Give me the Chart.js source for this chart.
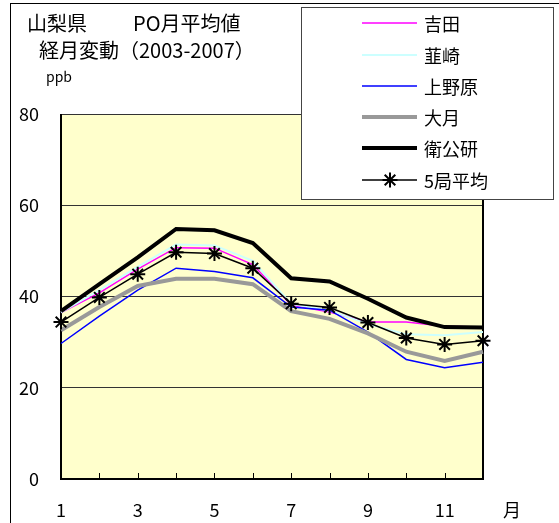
<!DOCTYPE html>
<html>
<head>
<meta charset="utf-8">
<script src="https://cdn.jsdelivr.net/npm/chart.js@4/dist/chart.umd.min.js"></script>
<style>
    html, body { margin: 0; padding: 0; background: #fff; }
    #wrap { width: 559px; height: 523px; position: relative; }
</style>
</head>
<body>
<div id="wrap"><canvas id="c" width="559" height="523"></canvas></div>
<script>
// PO monthly means (ppb)
const months = ['1', '2', '3', '4', '5', '6', '7', '8', '9', '10', '11', '12'];
const yoshida   = [36.5, 40.8, 46.0, 50.7, 50.6, 47.0, 38.1, 36.6, 34.4, 34.4, 33.5, 33.3];
const nirasaki  = [36.5, 41.4, 46.5, 51.4, 51.2, 47.8, 38.4, 36.9, 34.0, 31.7, 31.5, 32.2];
const uenohara  = [29.7, 35.7, 41.4, 46.2, 45.5, 44.1, 37.7, 37.0, 32.2, 26.2, 24.4, 25.6];
const otsuki    = [32.6, 37.7, 42.3, 43.9, 43.9, 42.7, 36.8, 35.1, 31.9, 27.9, 25.9, 27.9];
const eikouken  = [36.8, 42.7, 48.6, 54.8, 54.5, 51.7, 44.0, 43.3, 39.5, 35.4, 33.3, 33.2];
const average5  = [34.4, 39.8, 44.9, 49.7, 49.4, 46.2, 38.4, 37.6, 34.3, 30.9, 29.5, 30.3];
const yTicks = [0, 20, 40, 60, 80];

const FONT = '"Noto Sans CJK JP", "Noto Sans", sans-serif';

const seriesStyle = [
    { label: '吉田',     data: yoshida,  color: '#ff00ff', width: 1.5 },
    { label: '韮崎',     data: nirasaki, color: '#ccffff', width: 2 },
    { label: '上野原',   data: uenohara, color: '#0000ff', width: 1.5 },
    { label: '大月',     data: otsuki,   color: '#999999', width: 4 },
    { label: '衛公研',   data: eikouken, color: '#000000', width: 4 },
    { label: '5局平均', data: average5, color: '#000000', width: 1.5, star: true }
];

const datasets = seriesStyle.map((s, i) => ({
    label: s.label,
    data: s.data,
    borderColor: s.color,
    backgroundColor: s.color,
    borderWidth: s.width,
    tension: 0,
    order: seriesStyle.length - i,
    pointStyle: s.star ? 'star' : 'circle',
    pointRadius: s.star ? 7.5 : 0,
    pointBorderWidth: s.star ? 2 : 0,
    pointBorderColor: s.color
}));

function drawStar(ctx, x, y, r) {
    ctx.beginPath();
    for (let k = 0; k < 4; k++) {
        const a = k * Math.PI / 4;
        ctx.moveTo(x - r * Math.cos(a), y - r * Math.sin(a));
        ctx.lineTo(x + r * Math.cos(a), y + r * Math.sin(a));
    }
    ctx.stroke();
}

const framePlugin = {
    id: 'frame',
    beforeDraw(chart) {
        const { ctx, chartArea: a } = chart;
        ctx.save();
        ctx.fillStyle = '#fff';
        ctx.fillRect(0, 0, chart.width, chart.height);
        // outer chart frame
        ctx.strokeStyle = '#000';
        ctx.lineWidth = 1;
        ctx.strokeRect(10.5, 3.5, 700, 700);
        // plot background
        ctx.fillStyle = '#ffffcc';
        ctx.fillRect(a.left, a.top, a.right - a.left, a.bottom - a.top);
        ctx.restore();
    },
    beforeDatasetsDraw(chart) {
        const { ctx, chartArea: a, scales } = chart;
        ctx.save();
        ctx.strokeStyle = '#333';
        ctx.lineWidth = 1;
        ctx.beginPath();
        ctx.moveTo(a.left, a.top + 0.5);
        ctx.lineTo(a.right, a.top + 0.5);
        ctx.stroke();
        ctx.strokeStyle = '#000';
        ctx.lineWidth = 2;
        ctx.beginPath();
        ctx.moveTo(a.left, a.top);
        ctx.lineTo(a.left, a.bottom);
        ctx.lineTo(a.right, a.bottom);
        ctx.lineTo(a.right, a.top);
        ctx.stroke();
        // inner tick marks on the month axis
        ctx.lineWidth = 1;
        ctx.beginPath();
        months.forEach((m, i) => {
            const x = Math.round(scales.x.getPixelForValue(i)) + 0.5;
            ctx.moveTo(x, a.bottom);
            ctx.lineTo(x, a.bottom - 6);
        });
        ctx.stroke();
        ctx.restore();
    },
    afterDraw(chart) {
        const { ctx } = chart;
        ctx.save();
        ctx.fillStyle = '#000';
        ctx.textBaseline = 'middle';
        ctx.font = '20px ' + FONT;
        ctx.fillText('山梨県', 27, 23);
        ctx.fillText('PO月平均値', 133, 23);
        ctx.fillText('経月変動（2003-2007）', 39, 50);
        ctx.font = '14px ' + FONT;
        ctx.fillText('ppb', 46, 77);
        ctx.font = '18px ' + FONT;
        ctx.textAlign = 'center';
        ctx.fillText('月', 512, 510);

        // legend box
        ctx.textAlign = 'left';
        ctx.fillStyle = '#fff';
        ctx.fillRect(301, 7, 252, 192);
        ctx.strokeStyle = '#444';
        ctx.lineWidth = 1;
        ctx.strokeRect(301.5, 7.5, 252, 192);
        const rowsY = [23, 55, 86, 117, 148, 180];
        ctx.font = '18px ' + FONT;
        chart.data.datasets.forEach((ds, i) => {
            const y = rowsY[i];
            ctx.strokeStyle = ds.borderColor;
            ctx.lineWidth = ds.borderWidth;
            ctx.beginPath();
            ctx.moveTo(362, y);
            ctx.lineTo(417, y);
            ctx.stroke();
            if (ds.pointRadius > 0) {
                ctx.lineWidth = 2;
                drawStar(ctx, 390, y, 7.5);
            }
            ctx.fillStyle = '#000';
            ctx.fillText(ds.label, 424, y + 1);
        });
        ctx.restore();
    }
};

new Chart(document.getElementById('c'), {
    type: 'line',
    data: { labels: months, datasets: datasets },
    plugins: [framePlugin],
    options: {
        responsive: false,
        animation: false,
        layout: { padding: { left: 0, top: 114, right: 76, bottom: 0 } },
        plugins: {
            legend: { display: false },
            tooltip: { enabled: false }
        },
        scales: {
            x: {
                type: 'category',
                offset: false,
                grid: { display: false, drawTicks: false },
                border: { display: false },
                ticks: {
                    autoSkip: false,
                    maxRotation: 0,
                    padding: 20,
                    color: '#000',
                    font: { family: FONT, size: 18 },
                    callback: function (val, i) {
                        return i % 2 === 0 ? this.getLabelForValue(val) : '';
                    }
                },
                afterFit: s => { s.height = 44; }
            },
            y: {
                min: 0,
                max: 80,
                afterBuildTicks: s => { s.ticks = yTicks.map(v => ({ value: v })); },
                grid: {
                    drawTicks: false,
                    lineWidth: 1,
                    color: c => (c.tick && (c.tick.value === 0 || c.tick.value === 80)) ? 'rgba(0,0,0,0)' : '#333'
                },
                border: { display: false },
                ticks: {
                    padding: 22,
                    color: '#000',
                    font: { family: FONT, size: 18 }
                },
                afterFit: s => { s.width = 61; }
            }
        }
    }
});
</script>
</body>
</html>
